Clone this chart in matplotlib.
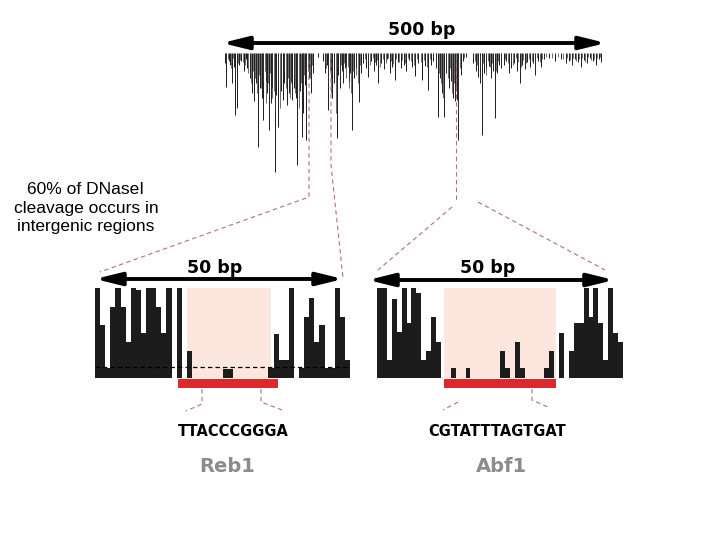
import matplotlib
matplotlib.use("Agg")
import matplotlib.pyplot as plt
from matplotlib.patches import FancyArrowPatch, Rectangle

# ---------------- data ----------------
# genome-wide track (500 bp): major cleavage positions (bp) and depths
track_pos = [1, 3, 6, 8, 10, 13, 15, 17, 20, 23, 26, 29,
             31, 34, 37, 40, 42, 45, 47, 50, 52, 55, 57, 59, 62, 64, 67, 69, 72, 75, 78, 80,
             83, 86, 88, 90, 93, 95, 97, 100, 103, 105, 107, 109, 112, 115, 118,
             124,
             131, 134, 136, 138, 141, 143, 146, 149, 151, 154, 156, 158, 160, 162, 165, 167,
             169, 172, 175, 178, 181,
             184, 188, 191, 195, 198, 201, 204, 208, 212, 215, 219, 222, 226, 230, 234, 238,
             241, 245, 249, 253, 257, 262, 266, 270, 274, 277,
             280, 283, 286, 288, 291, 294, 297, 300, 303, 305, 308, 310, 313,
             316, 320, 330, 333, 336, 339, 341, 344, 347, 350, 353, 356, 358, 361, 364, 367,
             370, 373, 377, 380, 384, 387, 391, 394, 398, 401, 405, 409, 412, 416, 419, 423,
             430, 438, 446, 452, 456, 460, 464, 468, 472, 476, 480, 484, 488, 492, 496, 499]
track_depth = [10, 34, 8, 12, 30, 14, 62, 55, 12, 8, 18, 6,
               15, 25, 40, 48, 30, 94, 35, 45, 67, 28, 40, 77, 50, 35, 119, 42, 74, 38, 47, 30,
               52, 40, 28, 47, 35, 45, 112, 38, 84, 60, 32, 87, 25, 40, 20,
               4,
               8, 20, 12, 57, 25, 45, 30, 85, 22, 35, 18, 30, 15, 13, 28, 20,
               77, 25, 15, 49, 20,
               10, 15, 24, 8, 18, 12, 30, 10, 16, 6, 20, 14, 27, 9, 15, 12,
               18, 7, 14, 23, 10, 27, 13, 37, 12, 8,
               15, 64, 25, 40, 64, 20, 35, 28, 45, 48, 47, 87, 22,
               8, 4, 10, 18, 24, 30, 82, 20, 15, 13, 25, 18, 65, 20, 12, 15,
               12, 8, 20, 15, 10, 18, 30, 12, 16, 9, 14, 10, 22, 8, 14, 6,
               5, 8, 6, 10, 8, 12, 6, 9, 14, 7, 10, 5, 8, 12, 6, 9]
# background cleavage positions (bp) and depths
bg_pos = [2, 5, 9, 12, 18, 21, 25, 28, 32, 36, 38, 41, 44, 46, 49, 51, 54, 56, 58, 61,
          63, 66, 68, 71, 74, 76, 79, 82, 85, 87, 89, 92, 94, 96, 99, 102, 104, 106, 108,
          111, 114, 117,
          133, 135, 137, 140, 142, 145, 148, 150, 153, 155, 157, 159, 161, 164, 166, 168,
          171, 174, 177, 180,
          186, 190, 193, 197, 200, 203, 206, 210, 214, 217, 221, 224, 228, 232, 236, 240,
          243, 247, 251, 255, 260, 264, 268, 272, 276,
          281, 284, 287, 290, 293, 296, 299, 302, 304, 307, 309, 312,
          318, 332, 335, 338, 343, 346, 349, 352, 355, 360, 363, 366,
          372, 375, 379, 382, 386, 389, 393, 396, 400, 403, 407, 411, 414, 418, 421, 426,
          434, 442, 449, 454, 458, 462, 466, 470, 474, 478, 482, 486, 490, 494, 498]
bg_depth = [8, 6, 15, 5, 10, 7, 9, 12, 20, 30, 18, 25, 40, 22, 35, 28, 18, 50, 30, 20,
            45, 38, 60, 25, 55, 30, 20, 35, 25, 45, 30, 22, 40, 28, 55, 30, 40, 22, 35,
            18, 25, 12,
            10, 15, 30, 18, 40, 22, 60, 15, 28, 12, 20, 10, 25, 14, 35, 40,
            18, 22, 30, 12,
            6, 8, 12, 5, 9, 7, 14, 6, 10, 5, 8, 11, 6, 9, 7, 10,
            5, 8, 12, 6, 9, 7, 14, 6, 5,
            12, 20, 30, 45, 18, 25, 15, 40, 30, 38, 60, 15,
            5, 8, 12, 15, 10, 22, 8, 14, 10, 18, 8, 6,
            6, 10, 8, 12, 5, 9, 14, 7, 10, 6, 8, 16, 5, 9, 6, 4,
            5, 4, 6, 5, 7, 5, 8, 6, 5, 9, 4, 7, 6, 5, 4]

# 50 bp zoom-ins: normalised cleavage per base
reb1_cleavage = [1.0, 0.59, 0.11, 0.79, 1.0, 0.79, 0.40, 1.0, 0.98, 0.50,
                 1.0, 1.0, 0.79, 0.50, 1.0, 0.0, 1.0, 0.0, 0.30, 0.0,
                 0.0, 0.0, 0.0, 0.0, 0.0, 0.10, 0.10, 0.0, 0.0, 0.0,
                 0.0, 0.0, 0.0, 0.0, 0.11, 0.49, 0.20, 0.20, 1.0, 0.0,
                 0.11, 0.68, 0.89, 0.40, 0.59, 0.11, 0.11, 1.0, 0.68, 0.20]
abf1_cleavage = [1.0, 1.0, 0.20, 0.88, 0.51, 1.0, 0.61, 1.0, 0.95, 0.20,
                 0.30, 0.68, 0.40, 0.0, 0.0, 0.11, 0.0, 0.0, 0.11, 0.0,
                 0.0, 0.0, 0.0, 0.0, 0.0, 0.30, 0.11, 0.0, 0.40, 0.11,
                 0.0, 0.0, 0.0, 0.0, 0.11, 0.30, 0.0, 0.50, 0.0, 0.30,
                 0.61, 0.61, 1.0, 0.68, 1.0, 0.61, 0.20, 1.0, 0.50, 0.40]
reb1_footprint = (18.0, 34.5)
reb1_motif = (16.2, 35.8)
abf1_footprint = (13.6, 36.4)
abf1_motif = (13.6, 36.4)
reb1_threshold = 0.12

labels_bp = ["500 bp", "50 bp", "50 bp"]
motif_seqs = ["TTACCCGGGA", "CGTATTTAGTGAT"]
factor_names = ["Reb1", "Abf1"]
note_text = "60% of DNaseI\ncleavage occurs in\nintergenic regions"

# ---------------- styling ----------------
BAR = "#1c1c1c"
PINK = "#fce6de"
RED = "#dc2a2c"
DASH = "#b8706a"
GRAY = "#8c8c8c"
W, H = 720, 540

fig = plt.figure(figsize=(7.2, 5.4), dpi=100)
fig.patch.set_facecolor("white")


def px_axes(x0, x1, y0, y1):
    return fig.add_axes([x0 / W, 1 - y1 / H, (x1 - x0) / W, (y1 - y0) / H])


# overlay axes in pixel space for annotations
ov = fig.add_axes([0, 0, 1, 1], zorder=5)
ov.set_xlim(0, W)
ov.set_ylim(H, 0)
ov.axis("off")
ov.patch.set_alpha(0)

# ---- top genome track ----
axt = px_axes(224, 602, 53, 178)
axt.vlines(track_pos, [-d for d in track_depth], 0, colors=BAR, linewidth=0.7)
axt.vlines(bg_pos, [-d for d in bg_depth], 0, colors="#333333", linewidth=0.5)
axt.set_xlim(0, 500)
axt.set_ylim(-125, 0)
axt.axis("off")


def panel(x0, x1, values, footprint, motif, threshold=None):
    ax = px_axes(x0, x1, 288, 392)
    full = 90.0 / 104.0
    ax.set_xlim(0, len(values))
    ax.set_ylim(-(1 - full) / full, 1.0)
    ax.axvspan(footprint[0], footprint[1], ymin=(1 - full), ymax=1.0,
               color=PINK, zorder=0, lw=0)
    ax.bar(range(len(values)), values, width=1.0, align="edge", color=BAR,
           linewidth=0, zorder=2)
    ax.add_patch(Rectangle((motif[0], -0.115), motif[1] - motif[0], 0.1,
                           color=RED, lw=0, zorder=3, clip_on=False))
    if threshold is not None:
        ax.axhline(threshold, color="black", lw=0.9, ls=(0, (3.5, 2.5)), zorder=4)
    ax.axis("off")
    return ax


panel(95, 350, reb1_cleavage, reb1_footprint, reb1_motif, reb1_threshold)
panel(377, 623, abf1_cleavage, abf1_footprint, abf1_motif)


def dbl_arrow(x0, x1, y):
    a = FancyArrowPatch((x0, y), (x1, y),
                        arrowstyle="<|-|>,head_length=1.3,head_width=0.32",
                        mutation_scale=12, lw=2.8, color="black",
                        shrinkA=0, shrinkB=0)
    ov.add_patch(a)


dbl_arrow(222, 606, 43)
dbl_arrow(95, 343, 279)
dbl_arrow(368, 614, 280)

ov.text(422, 30, labels_bp[0], ha="center", va="center", fontsize=12.5,
        fontweight="bold", family="DejaVu Sans")
ov.text(215, 268, labels_bp[1], ha="center", va="center", fontsize=12.5,
        fontweight="bold", family="DejaVu Sans")
ov.text(488, 268, labels_bp[2], ha="center", va="center", fontsize=12.5,
        fontweight="bold", family="DejaVu Sans")

ov.text(86, 208, note_text, ha="center", va="center", fontsize=12.5,
        family="Liberation Sans", linespacing=1.25)

ov.text(233, 431, motif_seqs[0], ha="center", va="center", fontsize=10.5,
        fontweight="bold", family="DejaVu Sans")
ov.text(497, 431, motif_seqs[1], ha="center", va="center", fontsize=10.5,
        fontweight="bold", family="DejaVu Sans")
ov.text(227, 466, factor_names[0], ha="center", va="center", fontsize=14,
        fontweight="bold", family="DejaVu Sans", color=GRAY)
ov.text(501, 466, factor_names[1], ha="center", va="center", fontsize=14,
        fontweight="bold", family="DejaVu Sans", color=GRAY)

# dashed connectors
dash_kw = dict(color=DASH, lw=0.8, ls=(0, (4, 3)))
ov.plot([309, 309, 100], [60, 197, 272], **dash_kw)
ov.plot([331, 331, 343], [55, 165, 278], **dash_kw)
ov.plot([456, 456], [55, 202], **dash_kw)
ov.plot([452, 378], [207, 270], **dash_kw)
ov.plot([478, 605], [202, 270], **dash_kw)
ov.plot([202, 202, 186], [389, 404, 411], **dash_kw)
ov.plot([261, 261, 282], [389, 402, 410], **dash_kw)
ov.plot([458, 443], [402, 410], **dash_kw)
ov.plot([532, 532, 550], [389, 400, 408], **dash_kw)

fig.savefig("out.png", dpi=100, facecolor="white")
